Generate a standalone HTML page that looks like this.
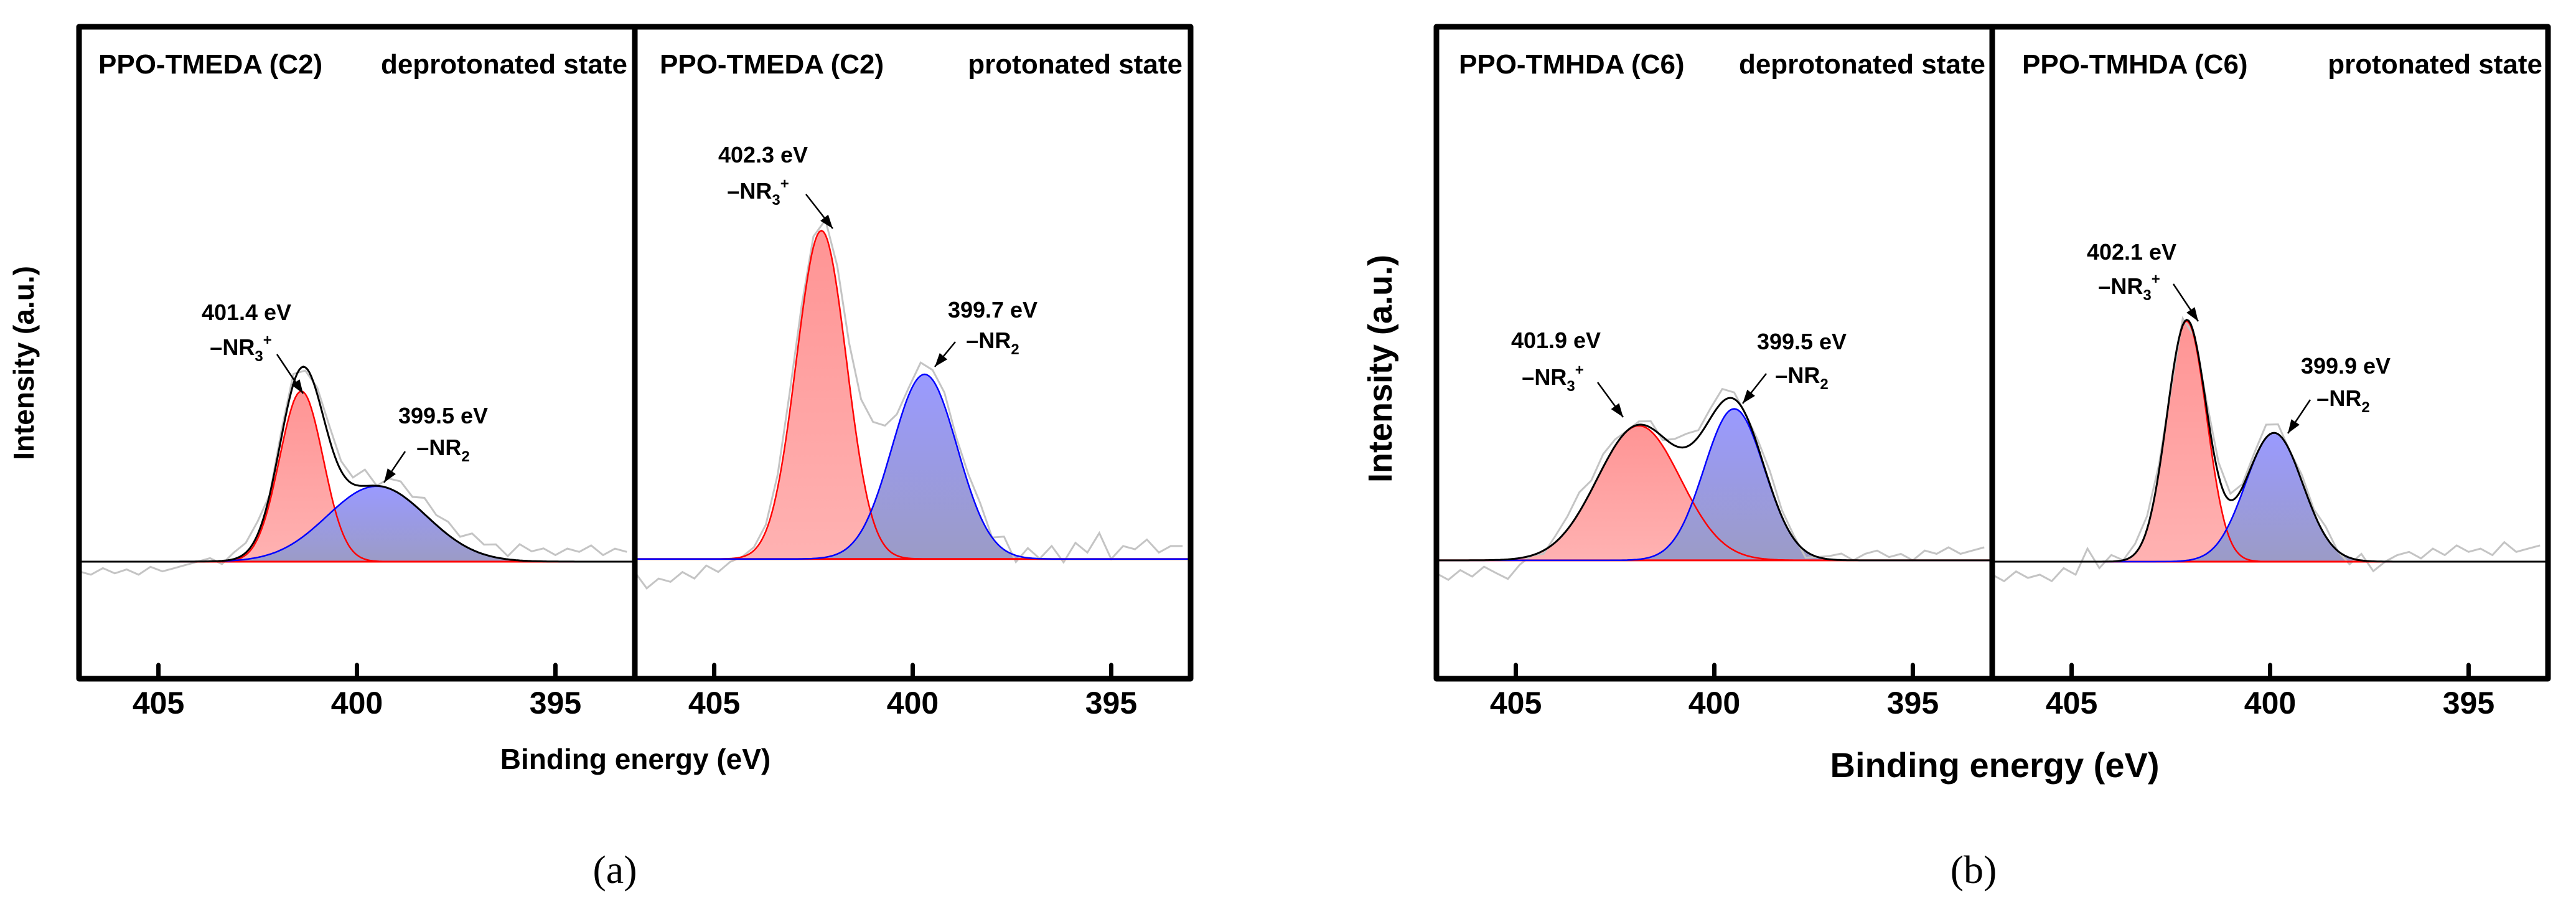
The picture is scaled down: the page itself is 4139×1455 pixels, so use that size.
<!DOCTYPE html>
<html><head><meta charset="utf-8"><title>XPS N1s spectra</title>
<style>
html,body{margin:0;padding:0;background:#fff;}
svg{display:block;}
text{font-family:"Liberation Sans",Arial,sans-serif;font-weight:bold;fill:#000;}
.cap{font-family:"Liberation Serif",serif;font-weight:normal;}
</style></head>
<body>
<svg id="chart" width="4139" height="1455" viewBox="0 0 4139 1455" xmlns="http://www.w3.org/2000/svg">
<defs>
<linearGradient id="gRed" x1="0" y1="0" x2="0" y2="1"><stop offset="0" stop-color="#ff9494"/><stop offset="1" stop-color="#ffb2b2"/></linearGradient>
<linearGradient id="gBlue" x1="0" y1="0" x2="0" y2="1"><stop offset="0" stop-color="#9a9aff"/><stop offset="1" stop-color="#9b9bc6"/></linearGradient>
<clipPath id="c0"><rect x="127" y="43" width="893" height="1047"/></clipPath>
<clipPath id="c1"><rect x="1020" y="43" width="893" height="1047"/></clipPath>
<clipPath id="c2"><rect x="2308" y="43" width="893" height="1047"/></clipPath>
<clipPath id="c3"><rect x="3201" y="43" width="893" height="1047"/></clipPath>
</defs>
<g id="marks"></g>
<g id="frames"></g>

<text x="158" y="118" font-size="44">PPO-TMEDA (C2)</text>
<text x="1008" y="118" font-size="44" text-anchor="end">deprotonated state</text>
<text x="1060" y="118" font-size="44">PPO-TMEDA (C2)</text>
<text x="1900" y="118" font-size="44" text-anchor="end">protonated state</text>
<text x="2344" y="118" font-size="44">PPO-TMHDA (C6)</text>
<text x="3190" y="118" font-size="44" text-anchor="end">deprotonated state</text>
<text x="3249" y="118" font-size="44">PPO-TMHDA (C6)</text>
<text x="4085" y="118" font-size="44" text-anchor="end">protonated state</text>

<g font-size="36">
<text x="396" y="514" text-anchor="middle">401.4 eV</text>
<text x="387" y="570" text-anchor="middle">–NR<tspan font-size="24" dy="10">3</tspan><tspan font-size="24" dy="-26">+</tspan></text>
<text x="712" y="680" text-anchor="middle">399.5 eV</text>
<text x="712" y="731" text-anchor="middle">–NR<tspan font-size="24" dy="10">2</tspan></text>
<text x="1226" y="261" text-anchor="middle">402.3 eV</text>
<text x="1218" y="319" text-anchor="middle">–NR<tspan font-size="24" dy="10">3</tspan><tspan font-size="24" dy="-26">+</tspan></text>
<text x="1595" y="510" text-anchor="middle">399.7 eV</text>
<text x="1595" y="559" text-anchor="middle">–NR<tspan font-size="24" dy="10">2</tspan></text>
<text x="2500" y="559" text-anchor="middle">401.9 eV</text>
<text x="2495" y="618" text-anchor="middle">–NR<tspan font-size="24" dy="10">3</tspan><tspan font-size="24" dy="-26">+</tspan></text>
<text x="2895" y="561" text-anchor="middle">399.5 eV</text>
<text x="2895" y="615" text-anchor="middle">–NR<tspan font-size="24" dy="10">2</tspan></text>
<text x="3425" y="417" text-anchor="middle">402.1 eV</text>
<text x="3421" y="472" text-anchor="middle">–NR<tspan font-size="24" dy="10">3</tspan><tspan font-size="24" dy="-26">+</tspan></text>
<text x="3769" y="600" text-anchor="middle">399.9 eV</text>
<text x="3765" y="652" text-anchor="middle">–NR<tspan font-size="24" dy="10">2</tspan></text>
</g>
<g id="arrows"></g>

<text font-size="46" text-anchor="middle" transform="translate(54,583) rotate(-90)">Intensity (a.u.)</text>
<text font-size="54" text-anchor="middle" transform="translate(2236,592) rotate(-90)">Intensity (a.u.)</text>
<text x="1021" y="1235" font-size="46" text-anchor="middle">Binding energy (eV)</text>
<text x="3205" y="1248" font-size="56" text-anchor="middle">Binding energy (eV)</text>
<text class="cap" x="988" y="1418" font-size="64" text-anchor="middle">(<tspan font-weight="bold" class="cap">a</tspan>)</text>
<text class="cap" x="3171" y="1418" font-size="64" text-anchor="middle">(<tspan font-weight="bold" class="cap">b</tspan>)</text>
<g id="ticklabels"></g>
</svg>
<script>
const panelNames = ["a-deprotonated", "a-protonated", "b-deprotonated", "b-protonated"];
const xTicks = [405, 400, 395];
const xTickLabels = ["405", "400", "395"];
const redCenter = [401.4, 402.3, 401.9, 402.1];
const redHeight = [0.262, 0.505, 0.207, 0.37];
const redSigma = [0.55, 0.63, 1.05, 0.5];
const blueCenter = [399.5, 399.7, 399.5, 399.9];
const blueHeight = [0.116, 0.284, 0.233, 0.198];
const blueSigma = [1.25, 0.82, 0.76, 0.72];
const baselineLevel = [0, 0.004, 0.002, 0];
const showEnvelope = [true, false, true, true];
const rawStart = 407, rawStep = 0.3;
const noiseA1 = [-0.015,-0.02,-0.01,-0.018,-0.012,-0.02,-0.008,-0.015,-0.01,-0.005,0.0,0.005,-0.005,0.01,0.015,0.02,0.0,0.01,0.015,-0.005,0.01,0.02,0.015,0.01,0.025,0.0,0.015,0.02,0.01,0.025,0.015,0.02,0.01,0.025,0.015,0.02,0.005,0.025,0.015,0.02,0.01,0.02,0.015,0.025,0.01,0.02,0.015];
const noiseA2 = [-0.02,-0.045,-0.03,-0.035,-0.02,-0.03,-0.01,-0.02,-0.005,0.0,0.005,0.01,0.02,0.03,0.02,0.015,0.02,0.03,0.04,0.06,0.07,0.05,0.02,0.01,0.02,0.015,0.02,0.01,0.015,0.02,0.0,0.02,-0.01,0.015,0.0,0.02,-0.005,0.025,0.01,0.04,0.0,0.02,0.015,0.03,0.01,0.02,0.02];
const noiseB1 = [-0.02,-0.03,-0.015,-0.025,-0.01,-0.02,-0.03,-0.01,0.0,-0.005,0.01,0.02,0.03,0.015,0.02,0.01,0.0,0.005,0.01,-0.005,0.01,0.02,0.01,0.015,0.02,0.01,0.0,0.01,0.02,0.01,0.005,-0.01,0.0,0.005,0.01,0.0,0.01,0.015,0.005,0.01,0.0,0.015,0.01,0.02,0.01,0.015,0.02];
const noiseB2 = [-0.02,-0.03,-0.015,-0.025,-0.02,-0.03,-0.01,-0.02,0.02,-0.01,0.01,0.0,0.015,0.02,0.01,-0.005,0.01,0.0,0.01,0.02,0.01,0.005,0.01,0.02,0.015,0.0,0.01,0.005,0.015,0.0,-0.01,0.01,-0.015,0.0,0.01,0.015,0.005,0.02,0.01,0.025,0.015,0.02,0.01,0.03,0.015,0.02,0.025];
const noiseSets = [noiseA1, noiseA2, noiseB1, noiseB2];

const NS = "http://www.w3.org/2000/svg";
const panelLeft = [127, 1020, 2308, 3201];
const PW = 893, TOP = 43, BOT = 1090;
const xMin = 407, xMax = 393, yMin = -0.18, yMax = 0.8224;
function xs(p, e) { return panelLeft[p] + (xMin - e) / (xMin - xMax) * PW; }
function ys(v) { return BOT - (v - yMin) / (yMax - yMin) * (BOT - TOP); }
function gauss(e, c, h, s) { return h * Math.exp(-(e - c) * (e - c) / (2 * s * s)); }
function mk(tag, attrs, parent) {
  const el = document.createElementNS(NS, tag);
  for (const k in attrs) el.setAttribute(k, attrs[k]);
  parent.appendChild(el); return el;
}
const marks = document.getElementById('marks');
const frames = document.getElementById('frames');
const tl = document.getElementById('ticklabels');

for (let p = 0; p < 4; p++) {
  const g = mk('g', {'clip-path': 'url(#c' + p + ')'}, marks);
  
  
  const b = baselineLevel[p];
  const N = 280;
  let red = [], blue = [], env = [];
  for (let i = 0; i <= N; i++) {
    const e = xMin - (xMin - xMax) * i / N;
    const r = gauss(e, redCenter[p], redHeight[p], redSigma[p]);
    const bl = gauss(e, blueCenter[p], blueHeight[p], blueSigma[p]);
    red.push([xs(p, e), ys(b + r)]);
    blue.push([xs(p, e), ys(b + bl)]);
    env.push([xs(p, e), ys(b + r + bl)]);
  }
  const pts = a => a.map(q => q[0].toFixed(1) + ',' + q[1].toFixed(1)).join(' ');
  const by = ys(b).toFixed(1);
  const x0 = xs(p, xMin).toFixed(1), x1 = xs(p, xMax).toFixed(1);
  const rf = mk('polygon', {points: x0 + ',' + by + ' ' + pts(red) + ' ' + x1 + ',' + by, fill: 'url(#gRed)'}, g);
  
  
  const bf = mk('polygon', {points: x0 + ',' + by + ' ' + pts(blue) + ' ' + x1 + ',' + by, fill: 'url(#gBlue)'}, g);
  
  
  const noise = noiseSets[p];
  let raw = [];
  for (let i = 0; i < noise.length; i++) {
    const e = rawStart - rawStep * i;
    const v = b + gauss(e, redCenter[p], redHeight[p], redSigma[p]) + gauss(e, blueCenter[p], blueHeight[p], blueSigma[p]) + noise[i];
    raw.push([xs(p, e), ys(v)]);
  }
  const rl = mk('polyline', {points: pts(raw), fill: 'none', stroke: '#c4c4c4', 'stroke-width': 3}, g);
  
  
  const bl0 = mk('line', {x1: x0, y1: by, x2: x1, y2: by, stroke: '#ff0000', 'stroke-width': 3}, g);
  
  
  const rline = mk('polyline', {points: pts(red), fill: 'none', stroke: '#ff0000', 'stroke-width': 2.5}, g);
  
  
  const bline = mk('polyline', {points: pts(blue), fill: 'none', stroke: '#0000ff', 'stroke-width': 2.5}, g);
  
  
  if (showEnvelope[p]) {
    const eline = mk('polyline', {points: pts(env), fill: 'none', stroke: '#000', 'stroke-width': 3}, g);
    
    
  }

  for (let t = 0; t < xTicks.length; t++) {
    const tx = xs(p, xTicks[t]);
    const tk = mk('line', {x1: tx, y1: BOT, x2: tx, y2: BOT - 22, stroke: '#000', 'stroke-width': 7, 'stroke-linecap': 'round'}, frames);
    
    
    const lb = mk('text', {x: tx, y: 1146, 'font-size': 50, 'text-anchor': 'middle'}, tl);
    lb.textContent = xTickLabels[t];
    
    
  }
}
[0, 2].forEach(function (p) {
  const fr = mk('rect', {x: panelLeft[p], y: TOP, width: 2 * PW, height: BOT - TOP, fill: 'none', stroke: '#000', 'stroke-width': 9, 'stroke-linejoin': 'round'}, frames);
  
  
  const dv = mk('line', {x1: panelLeft[p] + PW, y1: TOP, x2: panelLeft[p] + PW, y2: BOT, stroke: '#000', 'stroke-width': 9}, frames);
  
  
});
const arrowSegs = [[445,569,487,632],[651,725,617,775],[1295,312,1338,367],[1535,549,1502,589],[2567,614,2608,670],[2838,600,2800,648],[3492,456,3532,516],[3712,642,3676,696]];
const ag = document.getElementById('arrows');
arrowSegs.forEach(function (s) {
  const ln = mk('line', {x1: s[0], y1: s[1], x2: s[2], y2: s[3], stroke: '#000', 'stroke-width': 2.5}, ag);
  
  
  const dx = s[2] - s[0], dy = s[3] - s[1], L = Math.hypot(dx, dy), ux = dx / L, uy = dy / L;
  const bx = s[2] - ux * 22, by2 = s[3] - uy * 22;
  const hd = mk('polygon', {points: s[2] + ',' + s[3] + ' ' + (bx - uy * 8) + ',' + (by2 + ux * 8) + ' ' + (bx + uy * 8) + ',' + (by2 - ux * 8), fill: '#000'}, ag);
  
  
});
</script>
</body></html>
